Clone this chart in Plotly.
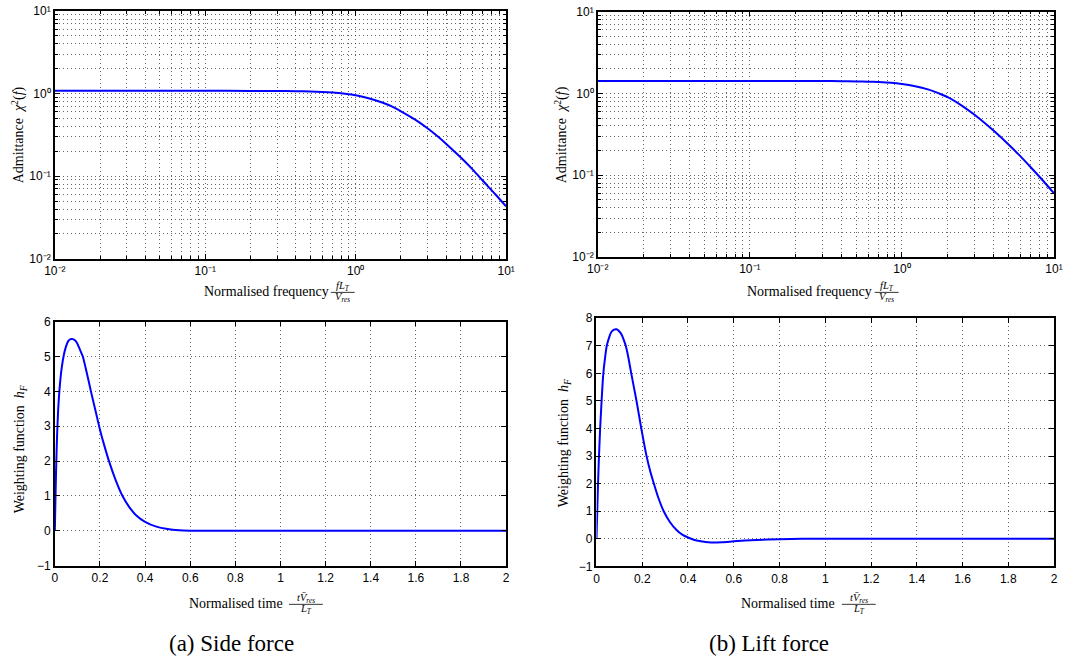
import plotly.graph_objects as go

# ---- data -------------------------------------------------------------
# Admittance vs normalised frequency (side force / lift force)
freq_side = [0.01, 0.03, 0.1, 0.2, 0.3, 0.4, 0.5, 0.6, 0.7, 0.85, 1.0, 1.2, 1.5, 1.75,
             2.0, 2.5, 3.0, 3.5, 4.0, 5.0, 6.0, 7.0, 8.5, 10.0]
adm_side = [1.08, 1.08, 1.08, 1.078, 1.075, 1.068, 1.06, 1.047, 1.03, 0.995, 0.955, 0.885, 0.78, 0.695,
            0.61, 0.48, 0.38, 0.304, 0.246, 0.168, 0.12, 0.088, 0.06, 0.043]

freq_lift = [0.01, 0.03, 0.1, 0.2, 0.3, 0.4, 0.5, 0.6, 0.7, 0.85, 1.0, 1.2, 1.5, 1.75,
             2.0, 2.5, 3.0, 3.5, 4.0, 5.0, 6.0, 7.0, 8.5, 10.0]
adm_lift = [1.42, 1.42, 1.42, 1.418, 1.415, 1.41, 1.40, 1.39, 1.375, 1.345, 1.30, 1.23, 1.11, 1.0,
            0.90, 0.70, 0.548, 0.435, 0.351, 0.239, 0.171, 0.126, 0.085, 0.060]

# Weighting function vs normalised time
time_side = [0, 0.003, 0.006, 0.01, 0.015, 0.02, 0.03, 0.04, 0.05, 0.06, 0.07, 0.08, 0.09,
             0.10, 0.11, 0.124, 0.14, 0.16, 0.18, 0.20, 0.22, 0.24, 0.27, 0.30, 0.33, 0.36,
             0.40, 0.45, 0.50, 0.55, 0.60, 0.7, 1.0, 1.5, 2.0]
hw_side = [0, 1.0, 1.85, 2.75, 3.5, 4.0, 4.65, 5.05, 5.3, 5.45, 5.5, 5.5, 5.46,
           5.37, 5.22, 5.0, 4.58, 4.0, 3.45, 2.9, 2.43, 2.0, 1.45, 1.0, 0.68, 0.45,
           0.26, 0.12, 0.05, 0.015, 0.003, 0, 0, 0, 0]

time_lift = [0, 0.003, 0.006, 0.01, 0.016, 0.023, 0.03, 0.038, 0.045, 0.055, 0.065, 0.075,
             0.088, 0.10, 0.11, 0.12, 0.128, 0.14, 0.152, 0.175, 0.196, 0.219, 0.235, 0.251,
             0.27, 0.294, 0.32, 0.35, 0.375, 0.40, 0.425, 0.45, 0.50, 0.55, 0.60, 0.70,
             0.80, 0.9, 1.0, 1.5, 2.0]
hw_lift = [0, 0.9, 1.8, 2.8, 4.0, 5.1, 6.0, 6.6, 7.0, 7.3, 7.5, 7.58,
           7.6, 7.52, 7.4, 7.2, 7.0, 6.55, 6.0, 5.0, 4.0, 3.0, 2.45, 2.0,
           1.5, 1.0, 0.62, 0.32, 0.15, 0.05, -0.03, -0.08, -0.13, -0.12, -0.09, -0.04,
           -0.01, 0, 0, 0, 0]

log_tickvals = [0.01, 0.1, 1, 10]
log_ticktext = ["10\u207b\u00b2", "10\u207b\u00b9", "10\u2070", "10\u00b9"]

# ---- figure geometry ------------------------------------------------------
# Page is 1075x664; the plot area sits inside the page body (8 px inset),
# so pixel positions are converted to paper fractions of that inner box.
W, H = 1075, 664
INSET = 8
BOX_W, BOX_H = W - 2 * INSET, H - 2 * INSET


def px(x):
    return (x - INSET) / BOX_W


def py(y):
    return min(1.0, 1 - (y - INSET) / BOX_H)


LINE = dict(color="#0000ff", width=2)
TICKFONT = dict(family="Liberation Sans, Arial, sans-serif", size=12, color="black")
SERIF = "Liberation Serif"
GRID_DASH = "1px,3px"
GRID_COL = "rgba(0,0,0,0.6)"

minor_log = [k * 10 ** e for e in (-2, -1, 0) for k in range(2, 10)]

fig = go.Figure()
fig.add_trace(go.Scatter(x=freq_side, y=adm_side, mode="lines", line=dict(shape="spline", smoothing=0.7, **LINE),
                         xaxis="x", yaxis="y", showlegend=False))
fig.add_trace(go.Scatter(x=freq_lift, y=adm_lift, mode="lines", line=dict(shape="spline", smoothing=0.7, **LINE),
                         xaxis="x2", yaxis="y2", showlegend=False))
fig.add_trace(go.Scatter(x=time_side, y=hw_side, mode="lines", line=dict(shape="spline", smoothing=0.5, **LINE),
                         xaxis="x3", yaxis="y3", showlegend=False))
fig.add_trace(go.Scatter(x=time_lift, y=hw_lift, mode="lines", line=dict(shape="spline", smoothing=0.5, **LINE),
                         xaxis="x4", yaxis="y4", showlegend=False))


def log_axis(domain, anchor):
    return dict(
        type="log", range=[-2, 1], domain=domain, anchor=anchor,
        tickvals=log_tickvals, ticktext=log_ticktext, tickfont=TICKFONT,
        ticklabeloverflow="allow",
        ticks="inside", ticklen=5, tickwidth=1, tickcolor="black",
        showline=True, linecolor="black", linewidth=1.5, mirror="allticks",
        showgrid=True, gridcolor=GRID_COL, griddash=GRID_DASH, gridwidth=1,
        zeroline=False,
        minor=dict(tickvals=minor_log, ticks="inside", ticklen=3, tickcolor="black",
                   showgrid=True, gridcolor=GRID_COL, griddash=GRID_DASH, gridwidth=1),
    )


def lin_axis(domain, anchor, rng, dtick):
    return dict(
        type="linear", range=rng, domain=domain, anchor=anchor, dtick=dtick, tick0=0,
        tickfont=TICKFONT, ticklabeloverflow="allow",
        ticks="inside", ticklen=5, tickwidth=1, tickcolor="black",
        showline=True, linecolor="black", linewidth=1.5, mirror="allticks",
        showgrid=True, gridcolor=GRID_COL, griddash=GRID_DASH, gridwidth=1,
        zeroline=False,
    )


fig.update_layout(
    width=W, height=H, margin=dict(l=0, r=0, t=0, b=0),
    paper_bgcolor="white", plot_bgcolor="white",
    xaxis=log_axis([px(52), px(505)], "y"),
    yaxis=log_axis([py(259), py(12)], "x"),
    xaxis2=log_axis([px(597), px(1055)], "y2"),
    yaxis2=log_axis([py(257.3), py(12.5)], "x2"),
    xaxis3=lin_axis([px(52), px(505)], "y3", [0, 2], 0.2),
    yaxis3=lin_axis([py(565), py(321.7)], "x3", [-1, 6], 1),
    xaxis4=lin_axis([px(595.7), px(1055)], "y4", [0, 2], 0.2),
    yaxis4=lin_axis([py(565.7), py(318.3)], "x4", [-1, 8], 1),
)

annotations = []
shapes = []


def text(x, y, s, size, angle=0, xanchor="center", yanchor="middle"):
    annotations.append(dict(
        x=px(x), y=py(y), xref="paper", yref="paper", text=s, showarrow=False,
        textangle=angle, xanchor=xanchor, yanchor=yanchor,
        font=dict(family=SERIF, size=size, color="black"),
    ))


def frac_label(x_left, x_frac, y, words, num, den, bar_w):
    text(x_left, y, words, 14, xanchor="right")
    text(x_frac, y - 5.5, num, 10.5)
    text(x_frac, y + 6, den, 10.5)
    shapes.append(dict(type="line", xref="paper", yref="paper",
                       x0=px(x_frac - bar_w / 2), x1=px(x_frac + bar_w / 2),
                       y0=py(y + 0.5), y1=py(y + 0.5), line=dict(color="black", width=0.8)))


# y-axis titles
text(15, 135, "Admittance  <i>\u03c7</i><sup>2</sup>(<i>f</i>)", 14, angle=-90)
text(560, 135, "Admittance  <i>\u03c7</i><sup>2</sup>(<i>f</i>)", 14, angle=-90)
text(17, 448, "Weighting function  <i>h<sub>F</sub></i>", 14, angle=-90)
text(563, 442, "Weighting function  <i>h<sub>F</sub></i>", 14, angle=-90)

# x-axis titles with fractions
frac_label(329, 341, 292, "Normalised frequency", "<i>fL<sub>T</sub></i>", "<i>V<sub>res</sub></i>", 24)
frac_label(874, 887, 292, "Normalised frequency", "<i>fL<sub>T</sub></i>", "<i>V<sub>res</sub></i>", 24)
frac_label(283, 304, 603, "Normalised time", "<i>tV\u0304<sub>res</sub></i>", "<i>L<sub>T</sub></i>", 34)
frac_label(837, 859, 603, "Normalised time", "<i>tV\u0304<sub>res</sub></i>", "<i>L<sub>T</sub></i>", 34)

# sub-figure captions
text(229, 643, "(a) Side force", 23)
text(769, 643, "(b) Lift force", 23)

fig.update_layout(annotations=annotations, shapes=shapes)
fig.write_html("out.html")
